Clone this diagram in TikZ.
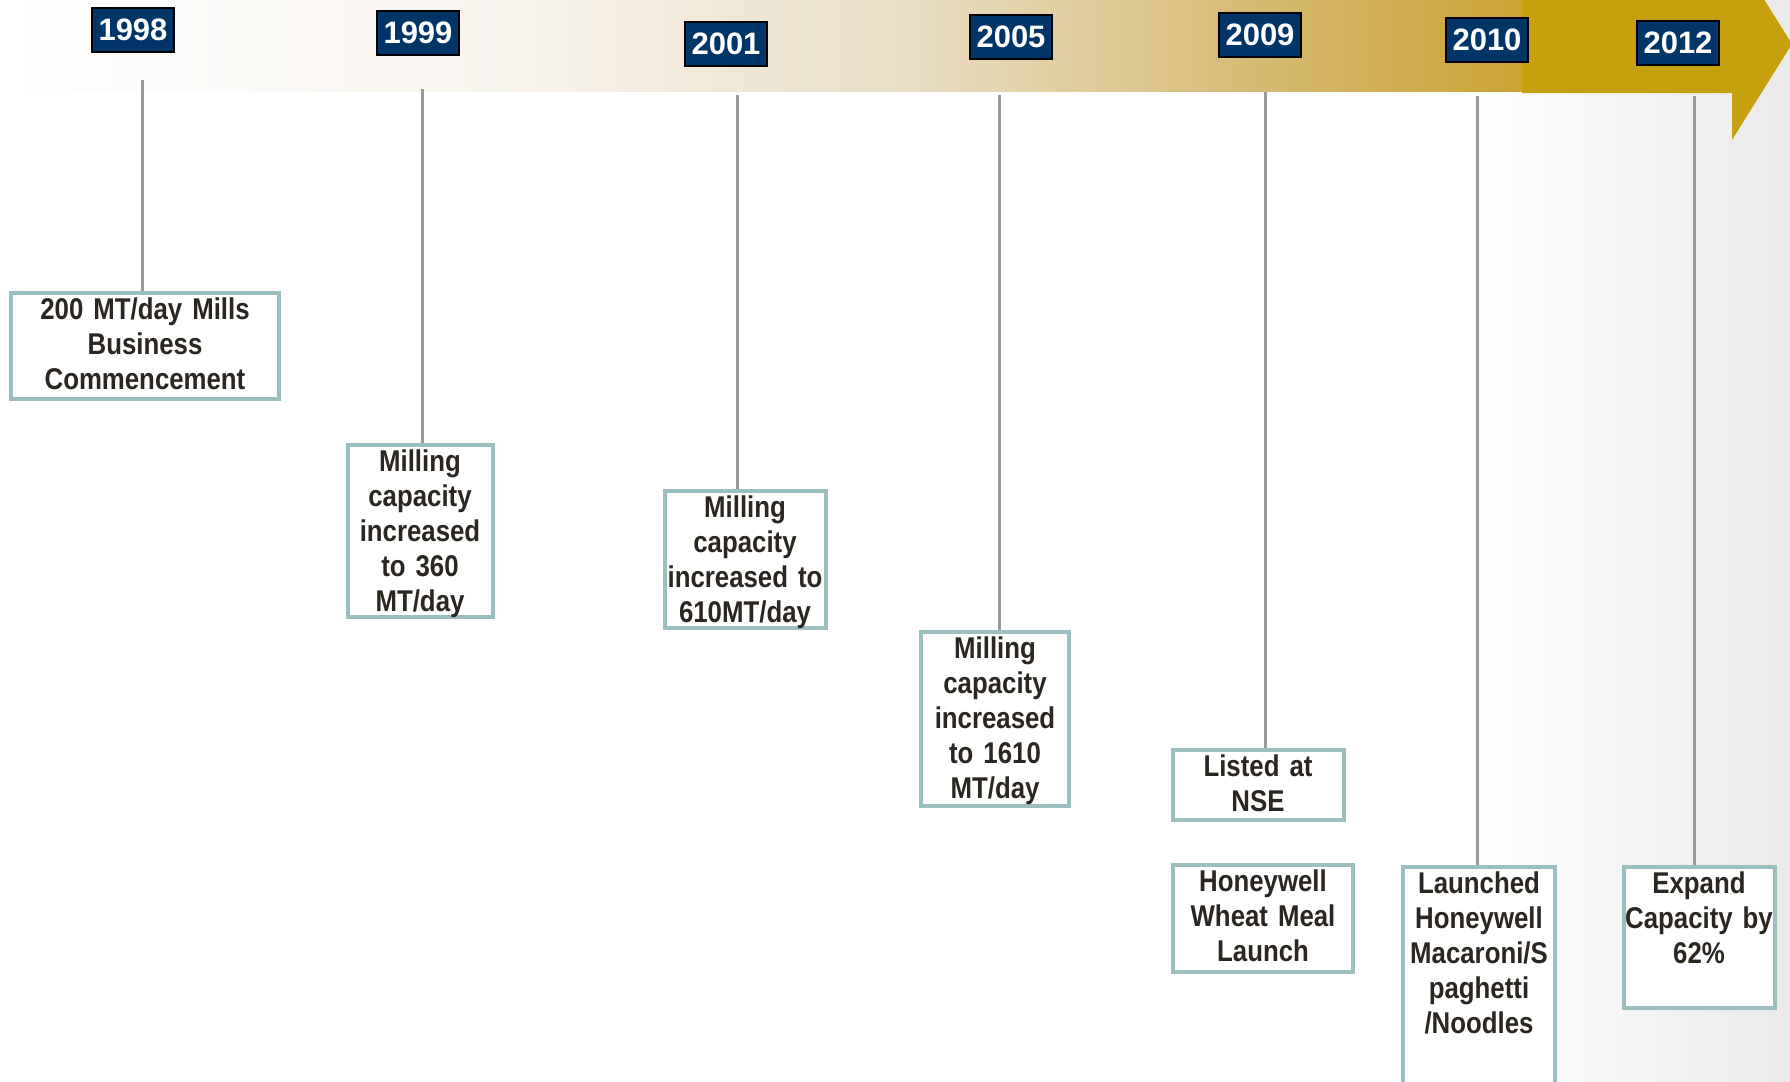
\documentclass[tikz,border=0pt]{standalone}
\usepackage{fontspec}
\setmainfont{Liberation Sans}
\newfontfamily\narrowfont[FakeStretch=0.86]{Liberation Sans}
\usepackage{xcolor}

\definecolor{navy}{RGB}{1,52,103}
\definecolor{gold}{RGB}{199,160,16}
\definecolor{bandA}{RGB}{248,244,238}
\definecolor{bandB}{RGB}{234,223,198}
\definecolor{bandC}{RGB}{217,191,128}
\definecolor{bandD}{RGB}{202,164,52}
\definecolor{boxline}{RGB}{155,190,190}
\definecolor{ink}{RGB}{43,38,32}
\definecolor{stemgray}{RGB}{153,153,153}
\definecolor{bggray}{RGB}{234,234,234}

\begin{document}
\begin{tikzpicture}[
		x=1pt, y=-1pt,
		year/.style={draw=black, line width=2pt, fill=navy, text=white, inner sep=0pt,
				minimum width=82pt, minimum height=44pt, font=\fontsize{31}{31}\selectfont\bfseries},
		event/.style={draw=boxline, line width=4pt, fill=white, text=ink, anchor=north,
				align=center, inner xsep=0pt, inner ysep=2pt, text height=24pt,
				font=\narrowfont\fontsize{30}{35}\selectfont\bfseries},
		stem/.style={draw=stemgray, line width=3pt}
	]

	\useasboundingbox (0,0) rectangle (1790,1081);
	\clip (0,0) rectangle (1790,1081);
	\fill[white] (0,0) rectangle (1790,1081);
	\shade[left color=white, right color=bggray] (1470,0) rectangle (1790,1081);

	% timeline band
	\foreach \xa/\ca/\xb/\cb in {0/white/500/bandA, 500/bandA/900/bandB, 900/bandB/1200/bandC, 1200/bandC/1522/bandD}
	\shade[left color=\ca, right color=\cb] (\xa,0) rectangle (\xb+1,91);
	\fill[gold] (1522,-2) -- (1732,-2) -- (1732,-52) -- (1792,44) -- (1732,140) -- (1732,93) -- (1522,93) -- cycle;

	\foreach \yr/\x/\y in {1998/133/30, 1999/418/33, 2001/726/44, 2005/1011/37, 2009/1260/35, 2010/1487/40, 2012/1678/43}
	\node[year] (y\yr) at (\x,\y) {\yr};

	\coordinate (t1998) at (142,80);
	\coordinate (t1999) at (422,89);
	\coordinate (t2001) at (737,95);
	\coordinate (t2005) at (999,95);
	\coordinate (t2009) at (1265,92);
	\coordinate (t2010) at (1477,96);
	\coordinate (t2012) at (1694,96);

	\node[event, text width=268pt, text depth=78pt] (e1998) at (145,291) {200 MT/day Mills\\Business\\Commencement};
	\node[event, text width=145pt, text depth=144pt] (e1999) at (420,443) {Milling\\capacity\\increased\\to 360\\MT/day};
	\node[event, text width=161pt, text depth=109pt] (e2001) at (745,489) {Milling\\capacity\\increased to\\610MT/day};
	\node[event, text width=148pt, text depth=146pt] (e2005) at (995,630) {Milling\\capacity\\increased\\to 1610\\MT/day};
	\node[event, text width=171pt, text depth=42pt] (e2009) at (1258,748) {Listed at\\NSE};
	\node[event, text width=180pt, text depth=79pt] (wheat) at (1263,863) {Honeywell\\Wheat Meal\\Launch};
	\node[event, text width=152pt, text depth=203pt] (e2010) at (1479,865) {Launched\\Honeywell\\Macaroni/S\\paghetti\\/Noodles};
	\node[event, text width=151pt, text depth=113pt] (e2012) at (1699,865) {Expand\\Capacity by\\62\%};

	\foreach \yr in {1998,1999,2001,2005,2009,2010,2012}
	\draw[stem] (t\yr) -- (t\yr |- e\yr.north);

\end{tikzpicture}
\end{document}
